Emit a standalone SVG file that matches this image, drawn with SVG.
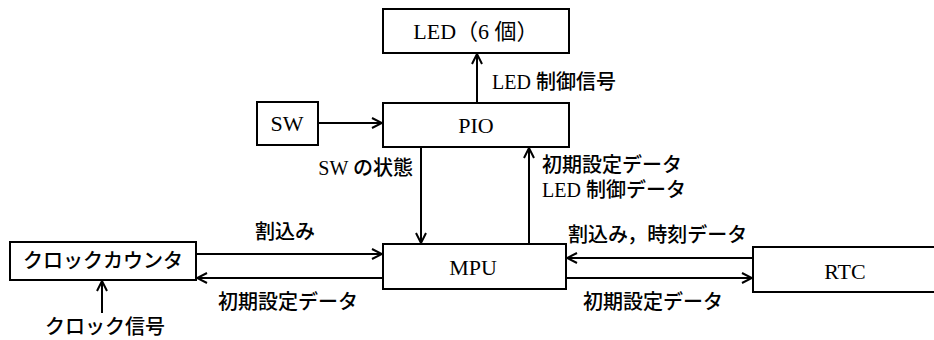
<svg xmlns="http://www.w3.org/2000/svg" width="934" height="340" viewBox="0 0 934 340">
<style>
.box{fill:#fff;stroke:#000;stroke-width:2}
.ln{stroke:#000;stroke-width:2;fill:none;marker-end:url(#ah)}
.t{font-family:"Liberation Serif","Noto Sans CJK JP",serif;font-size:22px;fill:#000}
.j{font-family:"Liberation Serif","Noto Sans CJK JP",sans-serif;font-size:20px;font-weight:500;fill:#000}
.c{text-anchor:middle}
</style>
<defs>
<marker id="ah" viewBox="0 0 12 12" refX="11" refY="6" markerWidth="12" markerHeight="12" markerUnits="userSpaceOnUse" orient="auto">
<path d="M1,1 L11,6 L1,11" fill="none" stroke="#000" stroke-width="2"/>
</marker>
</defs>
<rect width="934" height="340" fill="#fff"/>
<g id="connectors">
<line class="ln" x1="477" y1="103" x2="477" y2="54"/>
<line class="ln" x1="318" y1="123" x2="382" y2="123"/>
<line class="ln" x1="421" y1="147" x2="421" y2="243"/>
<line class="ln" x1="529" y1="244" x2="529" y2="148"/>
<line class="ln" x1="196" y1="254" x2="382" y2="254"/>
<line class="ln" x1="383" y1="278" x2="197" y2="278"/>
<line class="ln" x1="753" y1="258" x2="567" y2="258"/>
<line class="ln" x1="566" y1="278" x2="752" y2="278"/>
<line class="ln" x1="102" y1="313" x2="102" y2="281"/>
</g>
<g id="led"><rect class="box" x="383" y="9" width="186" height="44"/><text class="t c" x="476" y="39">LED（6 個）</text></g>
<g id="pio"><rect class="box" x="383" y="103" width="186" height="44"/><text class="t c" x="476" y="133">PIO</text></g>
<g id="sw"><rect class="box" x="257" y="102" width="61" height="43"/><text class="t c" x="287" y="131">SW</text></g>
<g id="mpu"><rect class="box" x="383" y="244" width="183" height="45"/><text class="t c" x="473" y="275">MPU</text></g>
<g id="rtc"><rect class="box" x="753" y="247" width="190" height="45"/><text class="t c" x="845" y="279">RTC</text></g>
<g id="clockcounter"><rect class="box" x="10" y="242" width="186" height="38"/><text class="j c" x="103" y="268">クロックカウンタ</text></g>
<g id="labels">
<text class="j" x="492" y="89">LED 制御信号</text>
<text class="j" x="413" y="175" text-anchor="end">SW の状態</text>
<text class="j" x="542" y="172">初期設定データ</text>
<text class="j" x="542" y="197">LED 制御データ</text>
<text class="j c" x="285" y="239">割込み</text>
<text class="j" x="568" y="242">割込み，時刻データ</text>
<text class="j" x="218" y="309">初期設定データ</text>
<text class="j" x="583" y="309">初期設定データ</text>
<text class="j" x="45" y="334">クロック信号</text>
</g>
</svg>
